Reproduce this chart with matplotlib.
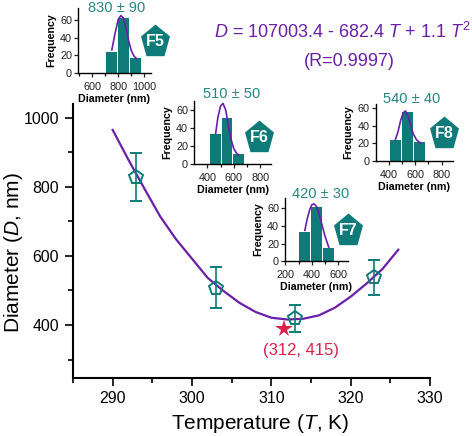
import matplotlib
matplotlib.use("Agg")
import matplotlib.pyplot as plt
from matplotlib.ticker import MultipleLocator

plt.rcParams['font.family'] = ['Liberation Sans', 'DejaVu Sans']
plt.rcParams['mathtext.fontset'] = 'custom'
plt.rcParams['mathtext.rm'] = 'Liberation Sans'
plt.rcParams['mathtext.it'] = 'Liberation Sans:italic'

W, H = 472, 436
TEAL = '#0f7b78'
TEAL_TEXT = '#26877f'
PURPLE = '#6a1fa8'
RED = '#d6224c'

# main chart
temps = [293, 303, 313, 323]
diam = [829, 508, 419, 538]
diam_err = [70, 60, 40, 50]
fit_t = [290, 292, 294, 296, 298, 300, 302, 304, 306, 308, 310, 312, 314, 316, 318, 320, 322, 324, 326]
fit_d = [965, 878, 795, 714, 648, 592, 536, 498, 464, 438, 421, 416, 418, 428, 450, 482, 520, 562, 618]
star_t = [311.6]
star_d = [388]

# insets
f5_bars_x = [750, 840, 930]
f5_bars_y = [23, 62, 17]
f5_curve_x = [750, 775, 800, 820, 840, 860, 880, 900, 920, 940]
f5_curve_y = [26, 45, 61, 65, 62, 50, 36, 25, 19, 16]

f6_bars_x = [462, 548, 636]
f6_bars_y = [34, 52, 11]
f6_curve_x = [463, 480, 500, 519, 540, 560, 580, 600, 620, 635]
f6_curve_y = [34, 52, 65, 68, 60, 42, 27, 17, 12, 10]

f7_bars_x = [346, 435, 528]
f7_bars_y = [33, 62, 15]
f7_curve_x = [347, 365, 385, 400, 416, 435, 455, 475, 500, 527]
f7_curve_y = [35, 48, 59, 64, 65, 62, 53, 42, 28, 16]

f8_bars_x = [452, 542, 632]
f8_bars_y = [24, 56, 21]
f8_curve_x = [450, 470, 490, 510, 527, 545, 565, 585, 610, 640]
f8_curve_y = [24, 33, 46, 55, 57, 52, 41, 31, 24, 20]

# the F badges are taller than a regular pentagon
badge_shape = [(0, 16), (14.5, 4), (9, -15.7), (-9, -15.7), (-14.5, 4)]


def px_axes(fig, left, top, right, bottom):
    return fig.add_axes([left / W, 1 - bottom / H, (right - left) / W, (bottom - top) / H])


def inset(fig, box, xlim, ylim, bars_x, bars_y, curve_x, curve_y, width, xticks):
    ax = px_axes(fig, *box)
    ax.patch.set_alpha(0)
    ax.bar(bars_x, bars_y, width=width, color=TEAL)
    ax.plot(curve_x, curve_y, color=PURPLE, lw=1.2)
    ax.set_xlim(xlim)
    ax.set_ylim(ylim)
    ax.set_xticks(xticks)
    ax.set_yticks([0, 20, 40, 60])
    ax.xaxis.set_minor_locator(MultipleLocator(100))
    ax.spines['top'].set_visible(False)
    ax.spines['right'].set_visible(False)
    ax.spines['left'].set_linewidth(1.0)
    ax.spines['bottom'].set_linewidth(1.0)
    ax.tick_params(axis='both', which='major', labelsize=7.8, length=3, width=0.9, colors='#222222')
    ax.tick_params(axis='x', which='major', pad=3.5)
    ax.tick_params(axis='y', which='major', pad=1.5)
    ax.tick_params(axis='x', which='minor', length=2, width=0.9)
    ax.set_xlabel("Diameter (nm)", fontsize=7.7, fontweight='bold', labelpad=1.5)
    ax.set_ylabel("Frequency", fontsize=7.7, fontweight='bold', labelpad=3)
    return ax


fig = plt.figure(figsize=(W / 100, H / 100), dpi=100)

ax = px_axes(fig, 73, 104, 430, 377.5)
ax.plot(fit_t, fit_d, color=PURPLE, lw=1.6, zorder=2)
ax.errorbar(temps, diam, yerr=diam_err, fmt='p', color=TEAL, mfc='none', mec=TEAL, ms=10.8, mew=1.4,
            elinewidth=1.2, capsize=4.3, capthick=1.2, zorder=3)
ax.plot(star_t, star_d, marker='*', color=RED, ms=13, mew=0, ls='none', zorder=4)
ax.set_xlim(285, 330)
ax.set_ylim(248, 1040)
ax.set_xticks([290, 300, 310, 320, 330])
ax.set_yticks([400, 600, 800, 1000])
ax.xaxis.set_minor_locator(MultipleLocator(5))
ax.yaxis.set_minor_locator(MultipleLocator(100))
ax.spines['top'].set_visible(False)
ax.spines['right'].set_visible(False)
ax.spines['left'].set_linewidth(1.5)
ax.spines['bottom'].set_linewidth(1.5)
ax.tick_params(axis='both', which='major', labelsize=11.4, length=6, width=1.2, pad=4)
ax.tick_params(axis='both', which='minor', length=3.5, width=1.2)
ax.set_xlabel(r"Temperature ($\mathit{T}$, K)", fontsize=15)
ax.set_ylabel(r"Diameter ($\mathit{D}$, nm)", fontsize=15)
ax.xaxis.set_label_coords(0.524, -0.126)
ax.yaxis.set_label_coords(-0.135, 0.458)

inset(fig, (78.3, 7.7, 150.7, 72.7), (492, 1049), (0, 74), f5_bars_x, f5_bars_y, f5_curve_x, f5_curve_y, 85, [600, 800, 1000])
inset(fig, (194.3, 100.7, 271, 163.7), (302, 881), (0, 71), f6_bars_x, f6_bars_y, f6_curve_x, f6_curve_y, 81, [400, 600, 800])
inset(fig, (285.3, 197.7, 347.7, 261.3), (200, 670), (0, 72), f7_bars_x, f7_bars_y, f7_curve_x, f7_curve_y, 81, [200, 400, 600])
inset(fig, (375.7, 104, 452.7, 160.7), (302, 883), (0, 65), f8_bars_x, f8_bars_y, f8_curve_x, f8_curve_y, 82, [400, 600, 800])

# overlay in pixel coordinates for the labels and the F badges
top = fig.add_axes([0, 0, 1, 1], zorder=10)
top.set_xlim(0, W)
top.set_ylim(H, 0)
top.axis('off')

badges = [("F5", 155, 40), ("F6", 259, 136), ("F7", 348, 229), ("F8", 444, 132)]
for name, bx, by in badges:
    top.scatter([bx], [by], marker=badge_shape, s=530, color=TEAL, linewidths=0)
    top.text(bx, by + 1, name, color='white', fontsize=11.5, fontweight='bold', ha='center', va='center')

titles = [("830 ± 90", 117, 8), ("510 ± 50", 232, 94), ("420 ± 30", 321, 194), ("540 ± 40", 412, 99)]
for label, tx, ty in titles:
    top.text(tx, ty, label, color=TEAL_TEXT, fontsize=10.5, ha='center', va='center')

top.text(342, 32, r"$\mathit{D}$ = 107003.4 - 682.4 $\mathit{T}$ + 1.1 $\mathit{T}^{2}$", color=PURPLE, fontsize=13,
         ha='center', va='center')
top.text(349, 61, "(R=0.9997)", color=PURPLE, fontsize=13, ha='center', va='center')
top.text(301, 350, "(312, 415)", color=RED, fontsize=12, ha='center', va='center')

fig.savefig("out.png", dpi=100)
